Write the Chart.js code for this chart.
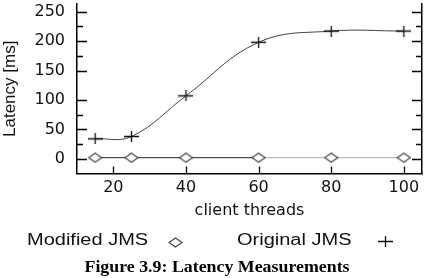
<!DOCTYPE html>
<html>
<head>
<meta charset="utf-8">
<script src="https://cdn.jsdelivr.net/npm/chart.js@4"></script>
<style>
  html, body { margin: 0; padding: 0; background: #fff; }
  #wrap { width: 427px; height: 278px; }
</style>
</head>
<body>
<div id="wrap"><canvas id="latencyChart" width="427" height="278"></canvas></div>
<script>
// data
const threads = [15, 25, 40, 60, 80, 100];
const modifiedJms = [2, 2, 2, 2, 2, 2];
const originalJms = [34, 38, 107, 198, 217, 217];
const yMajorTicks = [0, 50, 100, 150, 200, 250];
const yMinorTicks = [25, 75, 175, 225];
const xTicks = [20, 40, 60, 80, 100];
const legendLabels = ['Modified JMS', 'Original JMS'];
const captionText = 'Figure 3.9: Latency Measurements';

// marker images (the source is a bit wider than tall)
function makeDiamond() {
    const c = document.createElement('canvas');
    c.width = 15; c.height = 11;
    const g = c.getContext('2d');
    g.fillStyle = '#fff';
    g.strokeStyle = '#444';
    g.lineWidth = 1.2;
    g.beginPath();
    g.moveTo(1, 5.5); g.lineTo(7.5, 1); g.lineTo(14, 5.5); g.lineTo(7.5, 10);
    g.closePath();
    g.fill(); g.stroke();
    return c;
}
function makeCross() {
    const c = document.createElement('canvas');
    c.width = 15; c.height = 11;
    const g = c.getContext('2d');
    g.strokeStyle = '#111';
    g.lineWidth = 1.3;
    g.beginPath();
    g.moveTo(0, 5.5); g.lineTo(15, 5.5);
    g.moveTo(7.5, 0); g.lineTo(7.5, 11);
    g.stroke();
    return c;
}
const diamondImg = makeDiamond();
const crossImg = makeCross();

// no extra room for overhanging labels, the frame sits where the figure has it
function noOverhang(s) {
    s.paddingTop = 0; s.paddingBottom = 0;
    s.paddingLeft = 0; s.paddingRight = 0;
}

// the scanned figure is stretched sideways, so text under the plot is widened a bit
function wideText(ctx, text, x, y, sx) {
    ctx.save();
    ctx.translate(x, y);
    ctx.scale(sx, 1);
    ctx.fillText(text, 0, 0);
    ctx.restore();
}

// inward tick marks, legend with marker after the text, caption
const decorPlugin = {
    id: 'decor',
    afterDraw(chart) {
        const ctx = chart.ctx;
        const area = chart.chartArea;
        const y = chart.scales.y;
        const x = chart.scales.x;
        ctx.save();
        ctx.strokeStyle = '#000';
        ctx.lineWidth = 1.3;
        ctx.beginPath();
        const ticks = yMajorTicks.map(v => [v, 10]).concat(yMinorTicks.map(v => [v, 6]));
        ticks.forEach(([v, len]) => {
            const py = Math.round(y.getPixelForValue(v)) + 0.5;
            ctx.moveTo(area.left, py); ctx.lineTo(area.left + len, py);
            ctx.moveTo(area.right, py); ctx.lineTo(area.right - len, py);
        });
        xTicks.forEach(v => {
            const px = Math.round(x.getPixelForValue(v)) + 0.5;
            ctx.moveTo(px, area.bottom); ctx.lineTo(px, area.bottom - 7);
        });
        ctx.stroke();

        // legend
        ctx.fillStyle = '#111';
        ctx.font = '16px "Liberation Sans"';
        ctx.textBaseline = 'middle';
        ctx.textAlign = 'left';
        wideText(ctx, legendLabels[0], 27, 241, 1.25);
        ctx.drawImage(diamondImg, 168, 237);
        wideText(ctx, legendLabels[1], 237, 241, 1.25);
        ctx.drawImage(crossImg, 378, 236);

        // caption
        ctx.fillStyle = '#000';
        ctx.font = 'bold 17px "Liberation Serif"';
        ctx.textAlign = 'center';
        wideText(ctx, captionText, 217, 268, 1.05);
        ctx.restore();
    }
};

const ctx = document.getElementById('latencyChart').getContext('2d');
new Chart(ctx, {
    type: 'line',
    data: {
        datasets: [
            {
                label: legendLabels[0],
                data: threads.map((t, i) => ({ x: t, y: modifiedJms[i] })),
                borderColor: '#222',
                borderWidth: 1,
                tension: 0,
                pointStyle: diamondImg,
                segment: {
                    borderColor: c => c.p0DataIndex >= 3 ? '#aaa' : '#222'
                }
            },
            {
                label: legendLabels[1],
                data: threads.map((t, i) => ({ x: t, y: originalJms[i] })),
                borderColor: '#444',
                borderWidth: 1,
                tension: 0.4,
                pointStyle: crossImg
            }
        ]
    },
    options: {
        responsive: false,
        animation: false,
        events: [],
        layout: { autoPadding: false, padding: { top: 4, right: 0, left: 0, bottom: 58 } },
        scales: {
            x: {
                type: 'linear',
                min: 10,
                max: 105,
                afterBuildTicks: s => { s.ticks = xTicks.map(v => ({ value: v })); },
                afterFit: noOverhang,
                grid: { display: false, drawTicks: false },
                border: { display: true, color: '#000', width: 1.5 },
                ticks: { color: '#111', padding: 5, font: { family: 'DejaVu Sans', size: 16 } },
                title: {
                    display: true,
                    text: 'client threads',
                    color: '#111',
                    padding: { top: -2, bottom: 0 },
                    font: { family: 'DejaVu Sans', size: 16 }
                }
            },
            y: {
                min: -25,
                max: 263,
                afterBuildTicks: s => { s.ticks = yMajorTicks.map(v => ({ value: v })); },
                afterFit: s => { s.width = 77; noOverhang(s); },
                grid: { display: false, drawTicks: false },
                border: { display: true, color: '#000', width: 1.5 },
                ticks: { color: '#111', padding: 12, font: { family: 'DejaVu Sans', size: 16 } },
                title: {
                    display: true,
                    text: 'Latency [ms]',
                    color: '#111',
                    padding: 0,
                    font: { family: 'Liberation Sans', size: 17 }
                }
            },
            y2: {
                position: 'right',
                min: -25,
                max: 263,
                afterFit: s => { s.width = 5; noOverhang(s); },
                grid: { display: false, drawTicks: false },
                border: { display: true, color: '#000', width: 1.5 },
                ticks: { display: false }
            }
        },
        plugins: {
            legend: { display: false },
            tooltip: { enabled: false }
        }
    },
    plugins: [decorPlugin]
});
</script>
</body>
</html>
